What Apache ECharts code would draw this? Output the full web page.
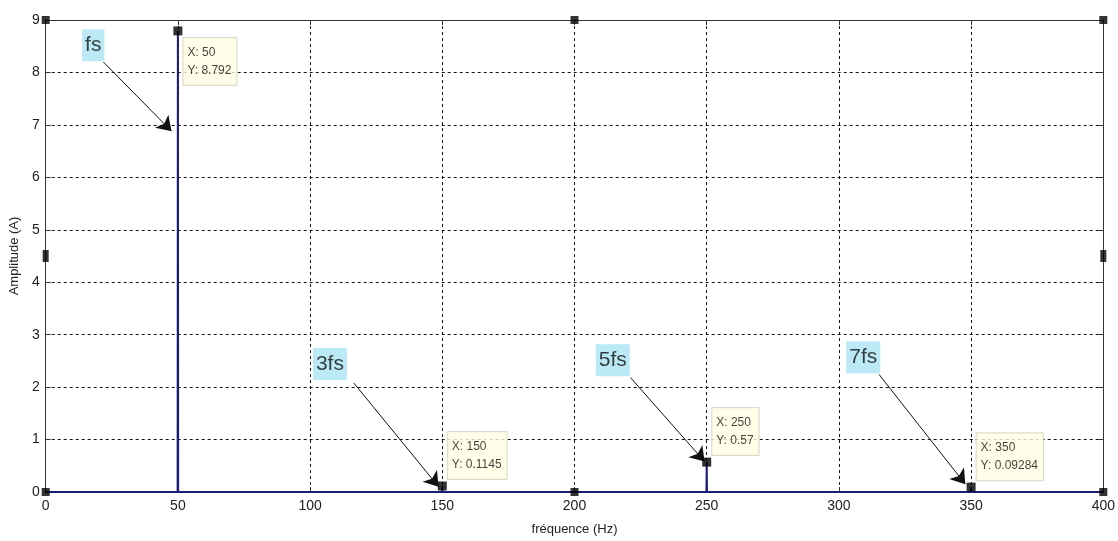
<!DOCTYPE html>
<html>
<head>
<meta charset="utf-8">
<script src="https://cdn.jsdelivr.net/npm/echarts@6/dist/echarts.min.js"></script>
<style>html,body{margin:0;padding:0;background:#fff;}#c{width:1118px;height:541px;}</style>
</head>
<body>
<div id="c"></div>
<script>
// spectrum (frequency in Hz, amplitude in A)
var freq = [0, 49.9, 50, 50.1, 149.9, 150, 150.1, 249.9, 250, 250.1, 349.9, 350, 350.1, 400];
var amp  = [0, 0, 8.792, 0, 0, 0.1145, 0, 0, 0.57, 0, 0, 0.09284, 0, 0];
// data tips
var tipX = [50, 150, 250, 350];
var tipY = [8.792, 0.1145, 0.57, 0.09284];
var tipText = ['8.792', '0.1145', '0.57', '0.09284'];
// harmonic annotations
var annText = ['fs', '3fs', '5fs', '7fs'];
var annPos = [[18.0, 8.52], [107.5, 2.44], [214.5, 2.51], [309.2, 2.57]];
var arrowFrom = [[21.8, 8.2], [116.5, 2.08], [221.2, 2.18], [315.2, 2.24]];
var arrowTo = [[47.6, 6.88], [148.6, 0.1], [249.2, 0.58], [347.8, 0.15]];
// axes
var xTicks = [0, 50, 100, 150, 200, 250, 300, 350, 400];
var yTicks = [0, 1, 2, 3, 4, 5, 6, 7, 8, 9];
// selection handles (plot edit mode)
var handles = [[0, 9], [200, 9], [400, 9], [0, 4.5], [400, 4.5], [0, 0], [200, 0], [400, 0]];

var FONT = 'Liberation Sans, Arial, sans-serif';
var chart = echarts.init(document.getElementById('c'), null, {renderer: 'canvas'});

var lineData = freq.map(function (f, i) { return [f, amp[i]]; });
var tipData = tipX.map(function (x, i) {
  var below = i === 0;
  return {
    value: [x, tipY[i]],
    label: {
      position: 'right',
      distance: 1,
      verticalAlign: below ? 'top' : 'bottom',
      offset: below ? [0, 7] : [0, -7]
    },
    name: 'X: ' + x + '\nY: ' + tipText[i]
  };
});

var axisCommon = {
  type: 'value',
  axisLine: {show: true, onZero: false, lineStyle: {color: '#333', width: 1}},
  axisTick: {show: true, inside: true, length: 5, lineStyle: {color: '#333'}},
  splitLine: {show: false},
  axisLabel: {show: false}
};

var option = {
  animation: false,
  backgroundColor: '#fff',
  grid: {left: 42, right: 12, top: 20, bottom: 48},
  xAxis: [
    Object.assign({}, axisCommon, {
      min: 0, max: 400, interval: 50,
      position: 'bottom',
      name: 'fréquence (Hz)', nameLocation: 'middle', nameGap: 31,
      nameTextStyle: {fontFamily: FONT, fontSize: 13, color: '#222'},
      axisLabel: {show: true, fontFamily: FONT, fontSize: 14, color: '#222', margin: 7,
        formatter: function (v) { return xTicks.indexOf(v) >= 0 ? String(v) : ''; }},
      splitLine: {show: true, lineStyle: {color: '#111', type: [3, 3], width: 1}}
    }),
    Object.assign({}, axisCommon, {min: 0, max: 400, interval: 50, position: 'top'})
  ],
  yAxis: [
    Object.assign({}, axisCommon, {
      min: 0, max: 9, interval: 1,
      position: 'left',
      name: 'Amplitude (A)', nameLocation: 'middle', nameGap: 24,
      nameTextStyle: {fontFamily: FONT, fontSize: 13, color: '#222'},
      axisLabel: {show: true, fontFamily: FONT, fontSize: 14, color: '#222', margin: 6,
        formatter: function (v) { return yTicks.indexOf(v) >= 0 ? String(v) : ''; }},
      splitLine: {show: true, lineStyle: {color: '#111', type: [3, 3], width: 1}}
    }),
    Object.assign({}, axisCommon, {min: 0, max: 9, interval: 1, position: 'right'})
  ],
  series: [
    {
      type: 'line',
      data: lineData,
      showSymbol: false,
      symbol: 'none',
      lineStyle: {color: '#1c1c78', width: 2},
      z: 3
    },
    {
      type: 'scatter',
      data: handles,
      symbol: 'rect',
      symbolSize: function (v) { return (v[1] === 4.5) ? [6, 12] : [8, 8]; },
      itemStyle: {color: '#000'},
      silent: true,
      z: 5
    },
    {
      type: 'lines',
      coordinateSystem: 'cartesian2d',
      data: arrowFrom.map(function (p, i) { return {coords: [p, arrowTo[i]]}; }),
      symbol: ['none', 'arrow'],
      symbolSize: [7, 14],
      lineStyle: {color: '#111', width: 1, opacity: 1, curveness: 0},
      z: 6
    },
    {
      type: 'scatter',
      data: annPos.map(function (p, i) { return {value: p, name: annText[i]}; }),
      symbolSize: 0,
      label: {
        show: true, position: 'inside',
        formatter: '{b}',
        fontFamily: FONT, fontSize: 21, color: '#111',
        backgroundColor: '#abe4f4',
        padding: [6, 3, 5, 3]
      },
      z: 7
    },
    {
      type: 'scatter',
      data: tipData,
      symbol: 'rect',
      symbolSize: 9,
      itemStyle: {color: '#000'},
      label: {
        show: true,
        formatter: '{b}',
        align: 'left',
        fontFamily: FONT, fontSize: 12, color: '#111',
        lineHeight: 18,
        backgroundColor: '#ffffe3',
        borderColor: '#d2d2c0',
        borderWidth: 1,
        padding: [6, 5, 5, 4]
      },
      z: 8
    }
  ]
};
chart.setOption(option);
</script>
</body>
</html>
